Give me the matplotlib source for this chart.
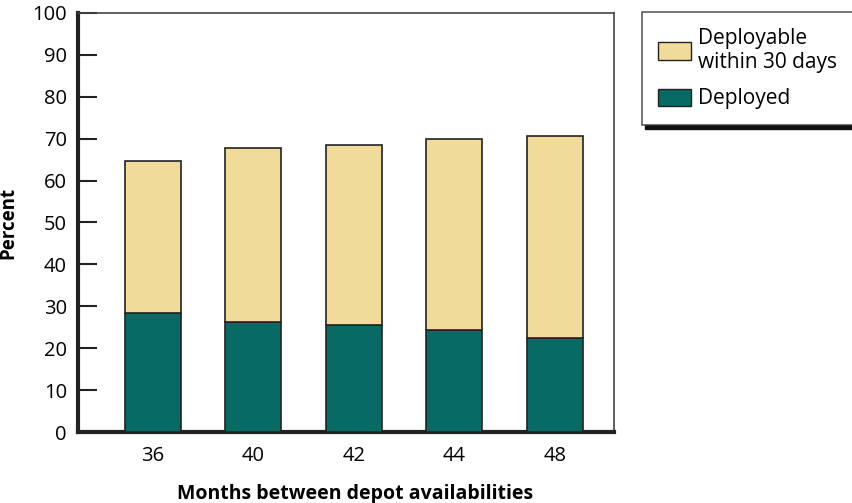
import numpy as np
import matplotlib.pyplot as plt
from matplotlib.patches import Patch, Rectangle

plt.rcParams['font.family'] = ['Open Sans', 'DejaVu Sans']

months = ['36', '40', '42', '44', '48']
deployed = [28.4, 26.3, 25.5, 24.3, 22.4]
deployable_30 = [36.3, 41.5, 43.0, 45.6, 48.2]   # stacked on top of deployed

tan = '#F0DB9B'
teal = '#086A64'

fig = plt.figure(figsize=(8.53, 5.03), dpi=100)
ax = fig.add_axes([78 / 853, 1 - 432 / 503, (614 - 78) / 853, (432 - 13) / 503])

x = np.arange(len(months))
ax.bar(x, deployed, width=0.56, color=teal, edgecolor='#222222', linewidth=1.2, zorder=3)
ax.bar(x, deployable_30, bottom=deployed, width=0.56, color=tan,
       edgecolor='#222222', linewidth=1.2, zorder=3)

ax.set_xlim(-0.745, 4.59)
ax.set_ylim(0, 100)
ax.set_yticks(range(0, 101, 10))
ax.set_xticks(x)
ax.set_xticklabels(months)
ax.tick_params(axis='y', direction='in', length=14, width=1.5, labelsize=14.5, pad=8, color='#222222')
ax.tick_params(axis='x', length=0, labelsize=14.5, pad=10)

for s in ['left', 'bottom']:
    ax.spines[s].set_linewidth(3)
    ax.spines[s].set_color('#222222')
for s in ['top', 'right']:
    ax.spines[s].set_linewidth(1.2)
    ax.spines[s].set_color('#444444')

ax.set_ylabel('Percent', fontsize=13.5, fontweight='bold', labelpad=10)
ax.set_xlabel('Months between depot availabilities', fontsize=14, fontweight='bold')
ax.xaxis.set_label_coords(0.516, -0.125)

# legend box, then the heavy shadow along its bottom
handles = [Patch(facecolor=tan, edgecolor='#222222', label='Deployable\nwithin 30 days'),
           Patch(facecolor=teal, edgecolor='#222222', label='Deployed')]
leg = fig.legend(handles=handles, loc='upper left', bbox_to_anchor=(642 / 853, 1 - 12 / 503),
                 fontsize=15, frameon=True, fancybox=False, edgecolor='#333333',
                 handlelength=1.6, handleheight=0.9, handletextpad=0.35,
                 borderpad=0.75, labelspacing=0.75, borderaxespad=0)
leg.get_frame().set_linewidth(1.2)

fig.canvas.draw()
bb = leg.get_window_extent()
fig.add_artist(Rectangle((bb.x0 + 3, bb.y0 - 4), 853 - bb.x0, 4,
                         transform=None, color='#111111', zorder=1))

fig.savefig('out.png', dpi=100)
